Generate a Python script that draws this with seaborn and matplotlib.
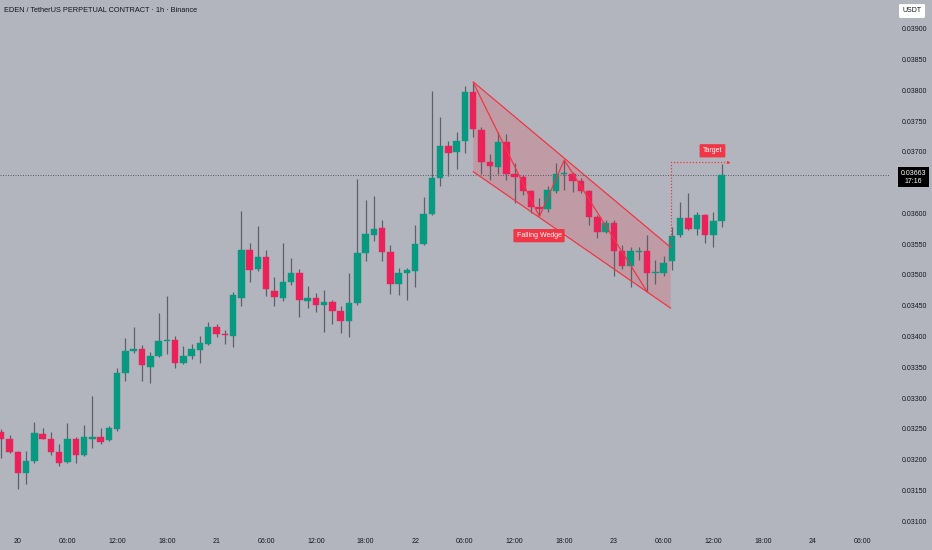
import matplotlib
matplotlib.use("Agg")
import matplotlib.pyplot as plt
import seaborn as sns
import pandas as pd
from matplotlib import font_manager
from matplotlib.patches import Polygon
from matplotlib.transforms import blended_transform_factory

# ---------------- data ----------------
title = "EDEN / TetherUS PERPETUAL CONTRACT · 1h · Binance"
# candle time: hours after 20th 00:00 (first candle is 19th 22:00)
hours = list(range(-2, 86))
opens = [0.03245, 0.03234, 0.03213, 0.03178, 0.03198, 0.03241, 0.03234, 0.03212, 0.03196, 0.03234,
         0.03207, 0.03234, 0.03236, 0.03231, 0.03250, 0.03340, 0.03377, 0.03380, 0.03351, 0.03369,
         0.03392, 0.03394, 0.03357, 0.03368, 0.03378, 0.03387, 0.03416, 0.03404, 0.03401, 0.03463,
         0.03540, 0.03509, 0.03529, 0.03474, 0.03462, 0.03489, 0.03504, 0.03458, 0.03462, 0.03452,
         0.03456, 0.03442, 0.03426, 0.03454, 0.03535, 0.03565, 0.03577, 0.03538, 0.03486, 0.03503,
         0.03507, 0.03550, 0.03599, 0.03658, 0.03710, 0.03700, 0.03718, 0.03798, 0.03736, 0.03684,
         0.03676, 0.03717, 0.03665, 0.03660, 0.03637, 0.03611, 0.03607, 0.03637, 0.03664, 0.03665,
         0.03653, 0.03637, 0.03594, 0.03570, 0.03585, 0.03539, 0.03515, 0.03538, 0.03539, 0.03503,
         0.03504, 0.03522, 0.03565, 0.03592, 0.03574, 0.03598, 0.03565, 0.03587]
highs = [0.03250, 0.03240, 0.03214, 0.03214, 0.03261, 0.03252, 0.03245, 0.03225, 0.03259, 0.03237,
         0.03256, 0.03303, 0.03251, 0.03255, 0.03348, 0.03397, 0.03415, 0.03386, 0.03374, 0.03438,
         0.03466, 0.03400, 0.03385, 0.03388, 0.03400, 0.03423, 0.03421, 0.03411, 0.03472, 0.03604,
         0.03552, 0.03580, 0.03541, 0.03496, 0.03552, 0.03527, 0.03509, 0.03482, 0.03471, 0.03476,
         0.03459, 0.03450, 0.03503, 0.03656, 0.03622, 0.03628, 0.03589, 0.03549, 0.03511, 0.03511,
         0.03581, 0.03627, 0.03799, 0.03757, 0.03718, 0.03733, 0.03807, 0.03813, 0.03741, 0.03697,
         0.03733, 0.03730, 0.03682, 0.03662, 0.03638, 0.03626, 0.03644, 0.03682, 0.03687, 0.03668,
         0.03657, 0.03639, 0.03598, 0.03589, 0.03589, 0.03549, 0.03545, 0.03545, 0.03565, 0.03524,
         0.03531, 0.03578, 0.03618, 0.03634, 0.03603, 0.03599, 0.03603, 0.03680]
lows = [0.03202, 0.03211, 0.03152, 0.03160, 0.03195, 0.03233, 0.03208, 0.03190, 0.03194, 0.03194,
        0.03205, 0.03219, 0.03226, 0.03230, 0.03247, 0.03327, 0.03373, 0.03328, 0.03324, 0.03367,
        0.03372, 0.03348, 0.03356, 0.03364, 0.03357, 0.03386, 0.03399, 0.03388, 0.03383, 0.03450,
        0.03488, 0.03507, 0.03466, 0.03450, 0.03458, 0.03483, 0.03431, 0.03446, 0.03440, 0.03408,
        0.03421, 0.03405, 0.03399, 0.03452, 0.03523, 0.03556, 0.03523, 0.03469, 0.03467, 0.03459,
        0.03480, 0.03549, 0.03598, 0.03645, 0.03661, 0.03672, 0.03699, 0.03725, 0.03664, 0.03654,
        0.03665, 0.03654, 0.03617, 0.03630, 0.03600, 0.03598, 0.03603, 0.03633, 0.03638, 0.03635,
        0.03633, 0.03581, 0.03560, 0.03569, 0.03498, 0.03509, 0.03481, 0.03524, 0.03473, 0.03486,
        0.03498, 0.03508, 0.03562, 0.03573, 0.03565, 0.03552, 0.03545, 0.03578]
closes = [0.03234, 0.03213, 0.03178, 0.03198, 0.03243, 0.03234, 0.03212, 0.03194, 0.03234, 0.03208,
          0.03237, 0.03236, 0.03228, 0.03251, 0.03341, 0.03376, 0.03379, 0.03354, 0.03368, 0.03393,
          0.03394, 0.03357, 0.03369, 0.03379, 0.03389, 0.03415, 0.03404, 0.03402, 0.03467, 0.03541,
          0.03508, 0.03530, 0.03477, 0.03464, 0.03489, 0.03504, 0.03460, 0.03463, 0.03451, 0.03456,
          0.03442, 0.03426, 0.03454, 0.03535, 0.03566, 0.03575, 0.03538, 0.03486, 0.03504, 0.03508,
          0.03550, 0.03599, 0.03657, 0.03709, 0.03699, 0.03718, 0.03798, 0.03737, 0.03684, 0.03677,
          0.03717, 0.03665, 0.03660, 0.03637, 0.03611, 0.03607, 0.03638, 0.03665, 0.03666, 0.03653,
          0.03637, 0.03594, 0.03570, 0.03585, 0.03539, 0.03515, 0.03539, 0.03539, 0.03504, 0.03505,
          0.03520, 0.03564, 0.03592, 0.03574, 0.03598, 0.03565, 0.03587, 0.03663]

x_tick_hours = [0, 6, 12, 18, 24, 30, 36, 42, 48, 54, 60, 66, 72, 78, 84, 90, 96, 102]
x_tick_labels = ["20", "06:00", "12:00", "18:00", "21", "06:00", "12:00", "18:00", "22",
                 "06:00", "12:00", "18:00", "23", "06:00", "12:00", "18:00", "24", "06:00"]
# 0.03650 is hidden behind the last-price label in the reference
y_ticks = [0.03100, 0.03150, 0.03200, 0.03250, 0.03300, 0.03350, 0.03400, 0.03450, 0.03500,
           0.03550, 0.03600, 0.03700, 0.03750, 0.03800, 0.03850, 0.03900]
y_tick_labels = ["0.03100", "0.03150", "0.03200", "0.03250", "0.03300", "0.03350", "0.03400",
                 "0.03450", "0.03500", "0.03550", "0.03600", "0.03700", "0.03750",
                 "0.03800", "0.03850", "0.03900"]
last_price = 0.03663
last_price_text = "0.03663"
countdown = "17:16"
currency = "USDT"

wedge_h = [55, 78.85]
wedge_upper = [0.03814, 0.03545]
wedge_lower = [0.03668, 0.03446]
zigzag_h = [55, 63, 66, 76]
zigzag_p = [0.03813, 0.03595, 0.03687, 0.03473]
target_h = [78.85, 78.85, 85.8]
target_p = [0.03545, 0.03684, 0.03684]
wedge_label = ("Falling Wedge", 62.95, 0.03564)
target_label = ("Target", 83.9, 0.03702)

# ---------------- style ----------------
BG = "#B2B5BE"
UP = "#089981"
DOWN = "#EB2159"
WICK = "#5D606B"
RED = "#F23645"
TXT = "#131722"

sns.set_theme(style="white", rc={"figure.facecolor": BG, "axes.facecolor": BG})
names = {f.name for f in font_manager.fontManager.ttflist}
fam = "Liberation Sans Narrow" if "Liberation Sans Narrow" in names else "Liberation Sans"
plt.rcParams["font.family"] = [fam, "DejaVu Sans"]

df = pd.DataFrame({"hour": hours, "open": opens, "high": highs, "low": lows, "close": closes})
df["up"] = df["close"] >= df["open"]
df["color"] = df["up"].map({True: UP, False: DOWN})
df["bottom"] = df[["open", "close"]].min(axis=1)
df["height"] = (df["close"] - df["open"]).abs().clip(lower=0.000012)

fig = plt.figure(figsize=(9.32, 5.5), dpi=100)
ax = fig.add_axes([0, 22 / 550, 889 / 932, 528 / 550])
ax.set_facecolor(BG)

# wedge fill
poly = Polygon([(wedge_h[0], wedge_upper[0]), (wedge_h[1], wedge_upper[1]),
                (wedge_h[1], wedge_lower[1]), (wedge_h[0], wedge_lower[0])],
               closed=True, facecolor=RED, alpha=0.2, edgecolor="none", zorder=1)
ax.add_patch(poly)

# current price line
ax.axhline(last_price, color="#4A4D57", lw=0.6, ls=(0, (1.2, 1.8)), zorder=1.5)

# candles
ax.vlines(df["hour"], df["low"], df["high"], color=WICK, lw=0.9, zorder=2)
ax.bar(df["hour"], df["height"], bottom=df["bottom"], width=0.78, color=df["color"],
       edgecolor=df["color"], linewidth=0.3, zorder=3)

# wedge lines via seaborn
sns.lineplot(x=wedge_h, y=wedge_upper, color=RED, lw=0.9, ax=ax, zorder=4)
sns.lineplot(x=wedge_h, y=wedge_lower, color=RED, lw=0.9, ax=ax, zorder=4)
sns.lineplot(x=zigzag_h, y=zigzag_p, color=RED, lw=0.9, ax=ax, sort=False, zorder=4)
ax.plot(target_h, target_p, color=RED, lw=0.9, ls=(0, (1, 1.5)), zorder=4)
ax.annotate("", xy=(target_h[-1] + 0.6, target_p[-1] - 0.00003),
            xytext=(target_h[-1] - 0.4, target_p[-1]),
            arrowprops=dict(arrowstyle="-|>", color=RED, lw=0.6, mutation_scale=4), zorder=4)

box = dict(boxstyle="round,pad=0.45,rounding_size=0.15", fc=RED, ec="none")
ax.text(wedge_label[1], wedge_label[2], wedge_label[0], color="white", fontsize=5,
        ha="center", va="center", bbox=box, zorder=5)
ax.text(target_label[1], target_label[2], target_label[0], color="white", fontsize=5,
        ha="center", va="center", bbox=box, zorder=5)

# axes limits
ax.set_xlim(-2.15, 105.22)
ax.set_ylim(0.0308862, 0.0394715)

for s in ax.spines.values():
    s.set_visible(False)
ax.grid(False)

ax.set_xticks(x_tick_hours)
ax.set_xticklabels(x_tick_labels)
ax.yaxis.tick_right()
ax.set_yticks(y_ticks)
ax.set_yticklabels(y_tick_labels)
ax.tick_params(axis="x", length=0, pad=7.5, labelsize=5, labelcolor=TXT)
ax.tick_params(axis="y", length=0, pad=9, labelsize=5, labelcolor=TXT)
for lab in ax.get_yticklabels():
    lab.set_horizontalalignment("left")

# last price label on price axis
tr = blended_transform_factory(ax.transAxes, ax.transData)
ax.text(1.0275, last_price - 0.00004, last_price_text + "\n" + countdown, transform=tr,
        color="white", fontsize=5, ha="center", va="center", linespacing=1.15, clip_on=False,
        bbox=dict(boxstyle="square,pad=0.35", fc="#000000", ec="none"), zorder=6)

# currency box top right
fig.text(912 / 932, 1 - 11 / 550, currency, color=TXT, fontsize=5, ha="center", va="center",
         bbox=dict(boxstyle="round,pad=0.5,rounding_size=0.2", fc="white", ec="none"))

# title
fig.text(4 / 932, 1 - 10 / 550, title, color=TXT, fontsize=5.3, ha="left", va="center")

fig.savefig("out.png", dpi=100, facecolor=BG)
